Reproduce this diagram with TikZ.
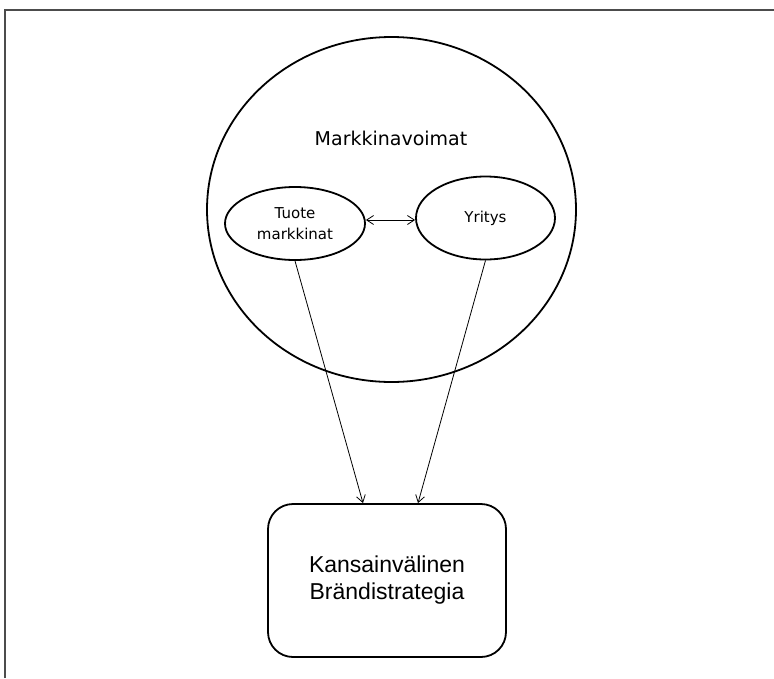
\documentclass[tikz,border=0pt]{standalone}
\usepackage{fontspec}
\usepackage{tikz}
\usetikzlibrary{shapes.geometric, arrows.meta, positioning}
\newfontfamily\verdfont{DejaVu Sans}
\newfontfamily\arialfont{Liberation Sans}

\begin{document}
\begin{tikzpicture}[x=1pt, y=-1pt,
    ring/.style={draw, line width=1.8pt, ellipse, inner sep=0pt},
    link/.style={line width=0.8pt, -{Straight Barb[length=7pt, width=9pt]}}]
    \useasboundingbox (0,0) rectangle (774,678);

    % Frame (only top and left edges show)
    \draw[line width=1.5pt, black!70] (5,678) -- (5,10) -- (774,10);

    % Market forces
    \node[ring, minimum width=369pt, minimum height=345pt] (forces) at (391.5,209.5) {};
    \node[anchor=base, font=\verdfont\fontsize{19}{23}\selectfont] (forcestext) at (391,145) {Markkinavoimat};

    % Inner ellipses
    \node[ring, minimum width=140pt, minimum height=73pt, align=center, font=\verdfont\fontsize{15}{21}\selectfont] (tuote) at (295,223.5) {Tuote\\markkinat};
    \node[ring, minimum width=139pt, minimum height=83pt, font=\verdfont\fontsize{15}{21}\selectfont] (yritys) at (485.5,218) {Yritys};

    % Strategy box
    \node[draw, line width=1.8pt, rounded corners=25pt, minimum width=238pt, minimum height=153pt, align=center, font=\arialfont\fontsize{23}{27}\selectfont] (brand) at (387,580.5) {Kansainvälinen\\Brändistrategia};

    % Connectors
    \draw[line width=0.8pt, {Straight Barb[length=7pt, width=9pt]}-{Straight Barb[length=7pt, width=9pt]}] ([yshift=3.5pt]tuote.east) -- ([yshift=-2pt]yritys.west);
    \coordinate (brandL) at ([xshift=-24pt]brand.north);
    \coordinate (brandR) at ([xshift=31pt]brand.north);
    \draw[link] (tuote.south) -- (brandL);
    \draw[link] (yritys.south) -- (brandR);
\end{tikzpicture}
\end{document}
